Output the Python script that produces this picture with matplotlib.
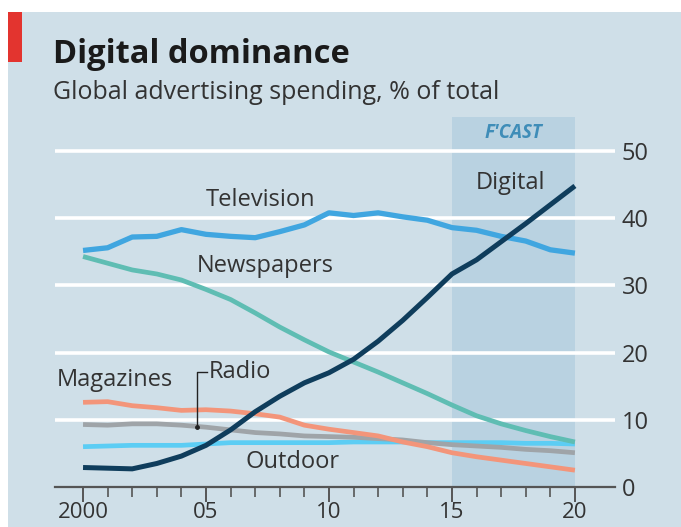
import matplotlib
matplotlib.use("Agg")
import matplotlib.pyplot as plt
from matplotlib.patches import Rectangle

plt.rcParams['font.family'] = ['Open Sans', 'DejaVu Sans']

# Data, % of global ad spending
years = list(range(2000, 2021))
television = [35.2, 35.6, 37.2, 37.3, 38.3, 37.6, 37.3, 37.1, 38.0, 39.0, 40.8,
              40.4, 40.8, 40.2, 39.7, 38.6, 38.2, 37.3, 36.6, 35.3, 34.8]
newspapers = [34.3, 33.3, 32.3, 31.7, 30.8, 29.4, 27.9, 25.9, 23.8, 21.9, 20.1,
              18.6, 17.1, 15.5, 13.9, 12.2, 10.6, 9.4, 8.4, 7.5, 6.7]
digital = [2.9, 2.8, 2.7, 3.5, 4.6, 6.2, 8.5, 11.2, 13.5, 15.5, 17.0,
           19.0, 21.7, 24.8, 28.2, 31.7, 33.8, 36.5, 39.2, 42.0, 44.8]
magazines = [12.6, 12.7, 12.1, 11.8, 11.4, 11.5, 11.3, 10.9, 10.4, 9.2, 8.6,
             8.1, 7.6, 6.7, 6.0, 5.1, 4.5, 4.0, 3.5, 3.0, 2.5]
radio = [9.3, 9.2, 9.4, 9.4, 9.2, 8.9, 8.5, 8.1, 7.9, 7.6, 7.5,
         7.4, 7.2, 7.0, 6.6, 6.3, 6.1, 5.9, 5.6, 5.4, 5.1]
outdoor = [6.0, 6.1, 6.2, 6.2, 6.2, 6.4, 6.6, 6.6, 6.6, 6.6, 6.6,
           6.7, 6.7, 6.7, 6.6, 6.6, 6.6, 6.6, 6.5, 6.5, 6.4]
forecast_start, forecast_end = 2015, 2020
y_ticks = [0, 10, 20, 30, 40, 50]
x_major = [2000, 2005, 2010, 2015, 2020]
x_major_labels = ['2000', '05', '10', '15', '20']

BG = '#cfdfe8'
SHADE = '#b9d2e1'
TEXT = '#333333'

W, H = 681, 527
fig = plt.figure(figsize=(W / 100, H / 100), dpi=100, facecolor='white')

# background panel with thin white border top/left, red tag
fig.patches.append(Rectangle((8 / W, 0), 1, 1 - 12 / H, transform=fig.transFigure,
                             facecolor=BG, edgecolor='none', zorder=-2))
fig.patches.append(Rectangle((8 / W, 1 - 62 / H), 14 / W, 50 / H, transform=fig.transFigure,
                             facecolor='#e3342f', edgecolor='none', zorder=-1))

fig.text(53 / W, 1 - 63 / H, 'Digital dominance', fontsize=23.5, fontweight='bold',
         color='#1a1a1a', ha='left', va='baseline')
fig.text(53 / W, 1 - 99 / H, 'Global advertising spending, % of total', fontsize=18,
         color=TEXT, ha='left', va='baseline')

ax = fig.add_axes([55 / W, 1 - 487 / H, 560 / W, 370 / H])
ax.set_zorder(2)
ax.set_facecolor('none')
ax.set_xlim(1998.86, 2021.63)
ax.set_ylim(0, 55.06)

ax.axvspan(forecast_start, forecast_end, color=SHADE, zorder=0, lw=0)
for yv in y_ticks[1:]:
    ax.axhline(yv, color='white', lw=2.6, zorder=1)

for s in ax.spines.values():
    s.set_visible(False)
ax.axhline(0, color='#555555', lw=1.6, zorder=2, clip_on=False)

lines = [
    (outdoor, '#5ccdf4', 3.4),
    (radio, '#9fa4a8', 3.4),
    (magazines, '#f3957a', 3.4),
    (newspapers, '#5fbdb3', 3.4),
    (television, '#40a6e0', 3.8),
    (digital, '#0f3d5c', 3.6),
]
for vals, col, lw in lines:
    ax.plot(years, vals, color=col, lw=lw, solid_capstyle='butt', zorder=3)

# axes ticks
ax.yaxis.tick_right()
ax.set_yticks(y_ticks)
ax.tick_params(axis='y', length=0, pad=5, labelsize=17, labelcolor=TEXT)
ax.set_xticks(x_major)
ax.set_xticklabels(x_major_labels)
ax.set_xticks(years, minor=True)
ax.tick_params(axis='x', which='major', length=11, width=1.4, color='#555555',
               pad=0, labelsize=16, labelcolor=TEXT)
ax.tick_params(axis='x', which='minor', length=7, width=1.2, color='#555555')

# series labels
lab = dict(fontsize=17, color=TEXT, zorder=5)
ax.text(2007.2, 42.7, 'Television', ha='center', va='center', **lab)
ax.text(2007.4, 32.9, 'Newspapers', ha='center', va='center', **lab)
ax.text(2017.4, 45.2, 'Digital', ha='center', va='center', **lab)
ax.text(2001.3, 15.9, 'Magazines', ha='center', va='center', **lab)
ax.text(2005.1, 17.1, 'Radio', ha='left', va='center', **lab)
ax.text(2008.5, 3.7, 'Outdoor', ha='center', va='center', **lab)
ax.text(2017.5, 52.7, "F'CAST", ha='center', va='center', fontsize=13.5,
        style='italic', fontweight='bold', color='#3f8db8', zorder=5)

# Radio leader line
ax.plot([2005.05, 2004.63, 2004.63], [17.1, 17.1, 8.9], color='#222222', lw=1, zorder=4)
ax.plot([2004.63], [8.9], 'o', color='#222222', ms=2.5, zorder=4)

fig.savefig('out.png', dpi=100, facecolor=fig.get_facecolor())
